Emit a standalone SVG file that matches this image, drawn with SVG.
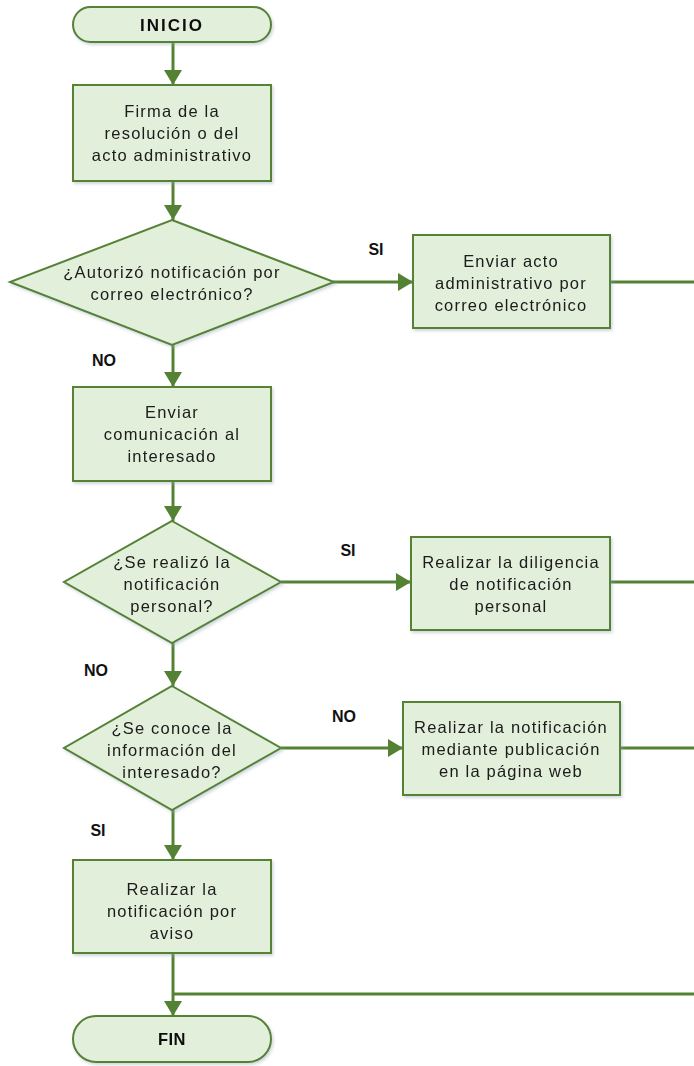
<svg xmlns="http://www.w3.org/2000/svg" width="694" height="1066" viewBox="0 0 694 1066">
<style>
.n{fill:#E2EFDA;stroke:#548235;stroke-width:2}
.t{font-family:"Liberation Sans",Arial,sans-serif;font-size:16.5px;fill:#1a1a1a;text-anchor:middle;letter-spacing:1.2px}
.b{font-family:"Liberation Sans",Arial,sans-serif;font-size:16px;font-weight:bold;fill:#111;text-anchor:middle}
.c{fill:none;stroke:#548235;stroke-width:3}
</style>
<defs>
<marker id="a" viewBox="0 0 10 12" refX="10" refY="6" markerWidth="5" markerHeight="6" markerUnits="strokeWidth" orient="auto">
<path d="M0,0 L10,6 L0,12 z" fill="#548235"/>
</marker>
<filter id="s" x="-10%" y="-10%" width="130%" height="130%">
<feDropShadow dx="1.5" dy="2" stdDeviation="1.5" flood-color="#9aa8b8" flood-opacity="0.45"/>
</filter>
</defs>
<g id="connectors">
<line class="c" x1="173" y1="42" x2="173" y2="85" marker-end="url(#a)"/>
<line class="c" x1="173" y1="181" x2="173" y2="220" marker-end="url(#a)"/>
<line class="c" x1="333" y1="282" x2="413" y2="282" marker-end="url(#a)"/>
<line class="c" x1="610" y1="282" x2="694" y2="282"/>
<line class="c" x1="173" y1="345" x2="173" y2="387" marker-end="url(#a)"/>
<line class="c" x1="173" y1="481" x2="173" y2="521" marker-end="url(#a)"/>
<line class="c" x1="281" y1="582" x2="411" y2="582" marker-end="url(#a)"/>
<line class="c" x1="610" y1="582" x2="694" y2="582"/>
<line class="c" x1="173" y1="643" x2="173" y2="686" marker-end="url(#a)"/>
<line class="c" x1="281" y1="748" x2="403" y2="748" marker-end="url(#a)"/>
<line class="c" x1="620" y1="748" x2="694" y2="748"/>
<line class="c" x1="173" y1="810" x2="173" y2="860" marker-end="url(#a)"/>
<line class="c" x1="173" y1="953" x2="173" y2="1016" marker-end="url(#a)"/>
<line class="c" x1="173" y1="994" x2="694" y2="994"/>
<text class="b" x="376" y="255">SI</text>
<text class="b" x="104" y="366">NO</text>
<text class="b" x="348" y="556">SI</text>
<text class="b" x="96" y="676">NO</text>
<text class="b" x="344" y="722">NO</text>
<text class="b" x="98" y="836">SI</text>
</g>
<g id="inicio" filter="url(#s)">
<rect class="n" x="73" y="7" width="198" height="35" rx="17.5"/>
<text class="b" x="172" y="31" style="font-size:17px;letter-spacing:2px">INICIO</text>
</g>
<g id="firma" filter="url(#s)">
<rect class="n" x="73" y="85" width="198" height="96"/>
<text class="t" x="172" y="117">Firma de la</text>
<text class="t" x="172" y="139">resolución o del</text>
<text class="t" x="172" y="161">acto administrativo</text>
</g>
<g id="dec1" filter="url(#s)">
<polygon class="n" points="172,220 334,282 172,345 10,282"/>
<text class="t" x="172" y="278">¿Autorizó notificación por</text>
<text class="t" x="172" y="300">correo electrónico?</text>
</g>
<g id="enviar-correo" filter="url(#s)">
<rect class="n" x="413" y="235" width="197" height="93"/>
<text class="t" x="511" y="267">Enviar acto</text>
<text class="t" x="511" y="289">administrativo por</text>
<text class="t" x="511" y="311">correo electrónico</text>
</g>
<g id="enviar-com" filter="url(#s)">
<rect class="n" x="73" y="387" width="198" height="94"/>
<text class="t" x="172" y="418">Enviar</text>
<text class="t" x="172" y="440">comunicación al</text>
<text class="t" x="172" y="462">interesado</text>
</g>
<g id="dec2" filter="url(#s)">
<polygon class="n" points="172,521 281,582 172,643 64,582"/>
<text class="t" x="172" y="568">¿Se realizó la</text>
<text class="t" x="172" y="590">notificación</text>
<text class="t" x="172" y="612">personal?</text>
</g>
<g id="diligencia" filter="url(#s)">
<rect class="n" x="411" y="537" width="199" height="93"/>
<text class="t" x="511" y="568">Realizar la diligencia</text>
<text class="t" x="511" y="590">de notificación</text>
<text class="t" x="511" y="612">personal</text>
</g>
<g id="dec3" filter="url(#s)">
<polygon class="n" points="172,686 281,748 172,810 64,748"/>
<text class="t" x="172" y="734">¿Se conoce la</text>
<text class="t" x="172" y="756">información del</text>
<text class="t" x="172" y="778">interesado?</text>
</g>
<g id="publicacion" filter="url(#s)">
<rect class="n" x="403" y="702" width="217" height="93"/>
<text class="t" x="511" y="733">Realizar la notificación</text>
<text class="t" x="511" y="755">mediante publicación</text>
<text class="t" x="511" y="777">en la página web</text>
</g>
<g id="aviso" filter="url(#s)">
<rect class="n" x="73" y="860" width="198" height="93"/>
<text class="t" x="172" y="895">Realizar la</text>
<text class="t" x="172" y="917">notificación por</text>
<text class="t" x="172" y="939">aviso</text>
</g>
<g id="fin" filter="url(#s)">
<rect class="n" x="73" y="1016" width="198" height="46" rx="23"/>
<text class="b" x="172" y="1045" style="font-size:16.5px;letter-spacing:0.5px">FIN</text>
</g>
</svg>
